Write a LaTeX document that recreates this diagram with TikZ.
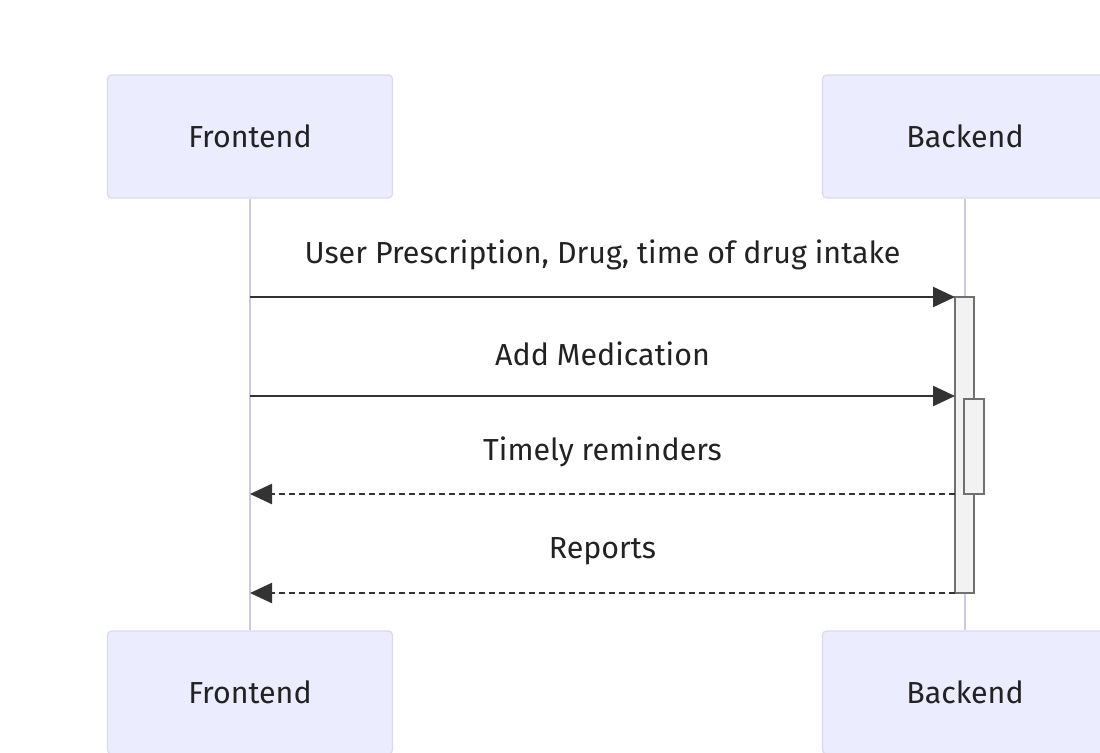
\documentclass[tikz,border=0pt]{standalone}
\usepackage{fontspec}
\setmainfont{Fira Sans}
\usetikzlibrary{positioning,arrows.meta}
\definecolor{actorfill}{HTML}{ECECFF}
\definecolor{actorline}{HTML}{DADAEE}
\definecolor{lifecol}{HTML}{CACAE8}
\definecolor{arrowcol}{HTML}{333333}
\definecolor{barfill}{HTML}{F2F2F2}
\definecolor{barline}{HTML}{707070}
\definecolor{textcol}{HTML}{222222}

\begin{document}
\begin{tikzpicture}
[x=0.5pt, y=-0.5pt, font=\fontsize{15.2}{18}\selectfont, text=textcol,
 actor/.style={draw=actorline, fill=actorfill, line width=0.6pt, rounded corners=2pt,
   minimum width=142.5pt, minimum height=61.5pt, inner sep=0pt},
 life/.style={draw=lifecol, line width=1.2pt},
 msg/.style={draw=arrowcol, line width=1.2pt, -{Triangle[length=11pt,width=10pt]}},
 reply/.style={msg, dash pattern=on 3pt off 2pt},
 bar/.style={draw=barline, fill=barfill, line width=0.8pt},
 lbl/.style={midway, yshift=21pt}]
\useasboundingbox (0,0) rectangle (1100,752);

% participants
\node[actor] (fe_top) at (250,136.5) {Frontend};
\node[actor] (be_top) at (965,136.5) {Backend};
\node[actor] (fe_bot) at (250,692.5) {Frontend};
\node[actor] (be_bot) at (965,692.5) {Backend};

% lifelines
\draw[life] (fe_top) -- (fe_bot);
\draw[life] (be_top) -- (be_bot);

% activations
\draw[bar] (955,297) rectangle (974,593);
\draw[bar] (964,399) rectangle (984,494);

% message ends
\coordinate (f1) at (250,297); \coordinate (b1) at (955,297);
\coordinate (f2) at (250,396); \coordinate (b2) at (955,396);
\coordinate (f3) at (250,494); \coordinate (b3) at (955,494);
\coordinate (f4) at (250,593); \coordinate (b4) at (955,593);

\draw[msg] (f1) -- (b1) node[lbl] {User Prescription, Drug, time of drug intake};
\draw[msg] (f2) -- (b2) node[lbl] {Add Medication};
\draw[reply] (b3) -- (f3) node[lbl] {Timely reminders};
\draw[reply] (b4) -- (f4) node[lbl] {Reports};
\end{tikzpicture}
\end{document}
